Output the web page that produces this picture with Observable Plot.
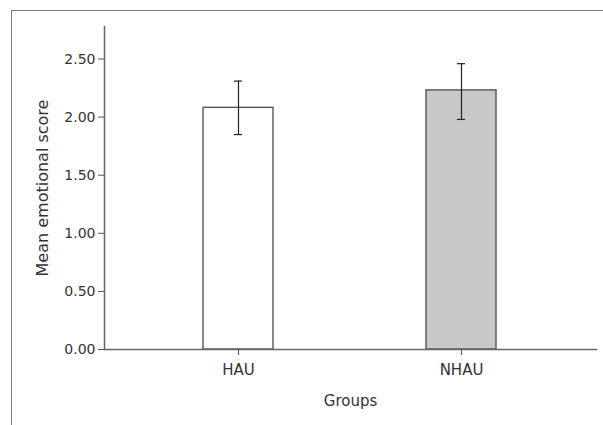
<!DOCTYPE html>
<html>
<head>
<meta charset="utf-8">
<script src="https://cdn.jsdelivr.net/npm/d3@7"></script>
<script src="https://cdn.jsdelivr.net/npm/@observablehq/plot@0.6"></script>
<style>
  html, body { margin: 0; padding: 0; background: #fff; }
  #wrap { position: relative; width: 603px; height: 425px; overflow: hidden; }
  #border { position: absolute; left: 11px; top: 10px; width: 600px; height: 430px;
            border-top: 1.5px solid #7a7a7a; border-left: 1.5px solid #7a7a7a; }
  #chart { position: absolute; left: 0; top: 0; }
</style>
</head>
<body>
<div id="wrap"><div id="border"></div><div id="chart"></div></div>
<script>
const groups = ["HAU", "NHAU"];
const means = [2.08, 2.23];
const upper = [2.31, 2.46];
const lower = [1.85, 1.98];
const fills = ["#ffffff", "#c8c8c8"];
const yTicks = [0, 0.5, 1.0, 1.5, 2.0, 2.5];

const data = groups.map((g, i) => ({group: g, mean: means[i], hi: upper[i], lo: lower[i], color: fills[i]}));

const chart = Plot.plot({
  width: 603,
  height: 425,
  marginLeft: 104,
  marginRight: 7,
  marginTop: 26,
  marginBottom: 76,
  style: {fontFamily: "DejaVu Sans", fontSize: "14px", color: "#333", background: "transparent"},
  x: {domain: groups, paddingInner: 0.686, paddingOuter: 0.446},
  y: {domain: [0, 2.78]},
  marks: [
    Plot.barY(data, {x: "group", y: "mean", fill: "color", stroke: "#555", strokeWidth: 1.4}),
    Plot.ruleX(data, {x: "group", y1: "lo", y2: "hi", stroke: "#222", strokeWidth: 1.2}),
    Plot.tickY(data, {x: "group", y: "hi", stroke: "#222", strokeWidth: 1.2, insetLeft: 31, insetRight: 31}),
    Plot.tickY(data, {x: "group", y: "lo", stroke: "#222", strokeWidth: 1.2, insetLeft: 31, insetRight: 31}),
    Plot.frame({anchor: "left", stroke: "#666", strokeWidth: 1.5}),
    Plot.frame({anchor: "bottom", stroke: "#666", strokeWidth: 1.5}),
    Plot.axisY({ticks: yTicks, tickFormat: d3.format(".2f"), tickSize: 6, tickPadding: 3, label: null, stroke: "#555", fontSize: 14}),
    Plot.axisX({tickSize: 6, tickPadding: 9, label: "Groups", labelAnchor: "center", labelOffset: 56, labelArrow: "none", stroke: "#555", fontSize: 15}),
    Plot.text(["Mean emotional score"], {frameAnchor: "left", textAnchor: "middle", rotate: -90, dx: -62, fontSize: 16, fill: "#333"})
  ]
});
document.getElementById("chart").appendChild(chart);
</script>
</body>
</html>
